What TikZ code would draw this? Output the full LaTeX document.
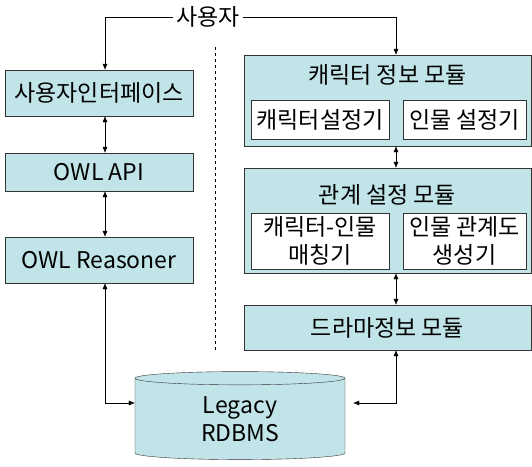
\documentclass[tikz,border=0pt]{standalone}
\usepackage{fontspec}
\setmainfont{Noto Sans CJK KR}
\usetikzlibrary{arrows.meta,positioning,shapes.geometric}
\definecolor{boxfill}{RGB}{192,228,232}

\begin{document}
\begin{tikzpicture}[x=1pt,y=-1pt,
        every node/.style={font=\fontsize{23}{28}\selectfont},
        blk/.style={draw=black!80, fill=boxfill, inner sep=0pt},
        sub/.style={draw=black!80, fill=white, inner sep=0pt, align=center},
        arr/.style={-{Latex[length=6pt,width=5pt]}},
        darr/.style={{Latex[length=6pt,width=5pt]}-{Latex[length=6pt,width=5pt]}}]
        \useasboundingbox (0,0) rectangle (532,466);

        % User
        \node (user) at (208,17) {사용자};

        % Left column
        \node[blk, minimum width=188pt, minimum height=46pt] (ui) at (99,93) {사용자인터페이스};
        \node[blk, minimum width=188pt, minimum height=38pt] (api) at (99,172) {OWL API};
        \node[blk, minimum width=188pt, minimum height=46pt] (reasoner) at (99,260) {OWL Reasoner};

        % Separator
        \draw[dashed] (215,47) -- (215,350);

        % Right column - modules
        \node[blk, minimum width=287pt, minimum height=91pt] (charmod) at (387.5,100.5) {};
        \node (chartitle) at (387.5,75) {캐릭터 정보 모듈};
        \node[sub, minimum width=138pt, minimum height=39pt] (charset) at (320,119.5) {캐릭터설정기};
        \node[sub, minimum width=123pt, minimum height=39pt] (persset) at (464.5,119.5) {인물 설정기};

        \node[blk, minimum width=287pt, minimum height=105pt] (relmod) at (387.5,220.5) {};
        \node (reltitle) at (387.5,195) {관계 설정 모듈};
        \node[sub, minimum width=138pt, minimum height=56pt] (match) at (320,241) {캐릭터-인물\\매칭기};
        \node[sub, minimum width=123pt, minimum height=56pt] (graph) at (464.5,241) {인물 관계도\\생성기};

        \node[blk, minimum width=287pt, minimum height=45pt] (drama) at (387.5,327.5) {드라마정보 모듈};

        % Database
        \node[cylinder, shape border rotate=90, draw=black!80, fill=boxfill, align=center,
              minimum width=210pt, minimum height=88pt, aspect=0.17, inner sep=0pt] (db) at (240,419) {Legacy\\RDBMS};

        % Connectors
        \draw[arr] (user.west) -| ([xshift=6pt]ui.north);
        \draw[arr] (user.east) -| ([xshift=8.5pt]charmod.north);
        \draw[darr] ([xshift=6pt]ui.south) -- ([xshift=6pt]api.north);
        \draw[darr] ([xshift=6pt]api.south) -- ([xshift=6pt]reasoner.north);
        \draw[darr] ([xshift=8.5pt]charmod.south) -- ([xshift=8.5pt]relmod.north);
        \draw[darr] ([xshift=8.5pt]relmod.south) -- ([xshift=8.5pt]drama.north);
        \draw[darr] ([xshift=6pt]reasoner.south) |- ([yshift=16pt]db.west);
        \draw[darr] ([xshift=8.5pt]drama.south) |- ([xshift=8pt,yshift=16pt]db.east);
\end{tikzpicture}
\end{document}
